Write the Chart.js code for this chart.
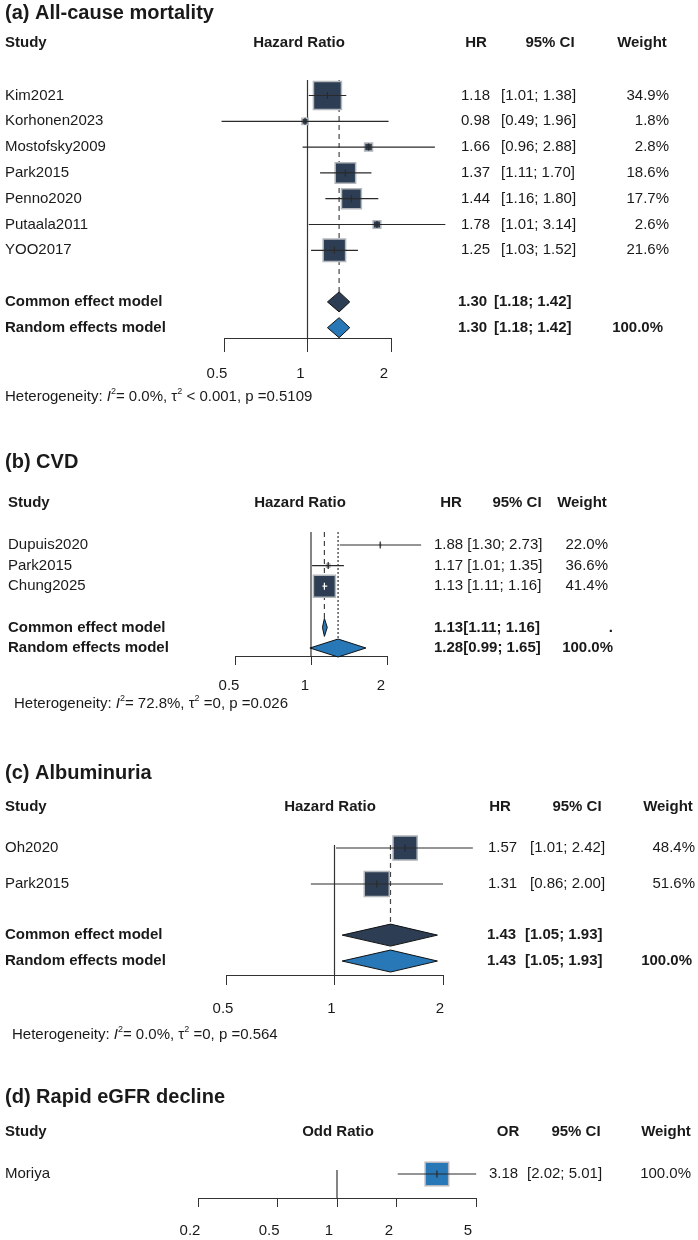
<!DOCTYPE html>
<html>
<head>
<meta charset="utf-8">
<script src="https://cdn.jsdelivr.net/npm/chart.js@4.4.1/dist/chart.umd.min.js"></script>
<style>
  html, body { margin: 0; padding: 0; background: #fff; }
  #page { position: relative; width: 698px; height: 1240px; }
  #page canvas { position: absolute; left: 0; top: 0; }
</style>
</head>
<body>
<div id="page">
  <canvas id="mortality" width="698" height="1240"></canvas>
  <canvas id="cvd" width="698" height="1240"></canvas>
  <canvas id="albuminuria" width="698" height="1240"></canvas>
  <canvas id="egfr" width="698" height="1240"></canvas>
</div>
<script>
// (a) All-cause mortality
const studiesA = ["Kim2021", "Korhonen2023", "Mostofsky2009", "Park2015", "Penno2020", "Putaala2011", "YOO2017"];
const hrA = [1.18, 0.98, 1.66, 1.37, 1.44, 1.78, 1.25];
const lowA = [1.01, 0.49, 0.96, 1.11, 1.16, 1.01, 1.03];
const highA = [1.38, 1.96, 2.88, 1.70, 1.80, 3.14, 1.52];
const weightA = [34.9, 1.8, 2.8, 18.6, 17.7, 2.6, 21.6];
const commonA = [1.30, 1.18, 1.42];
const randomA = [1.30, 1.18, 1.42];
const hetA = ["0.0%", " < 0.001", "0.5109"];
const ticksA = [0.5, 1, 2];

// (b) CVD
const studiesB = ["Dupuis2020", "Park2015", "Chung2025"];
const hrB = [1.88, 1.17, 1.13];
const lowB = [1.30, 1.01, 1.11];
const highB = [2.73, 1.35, 1.16];
const weightB = [22.0, 36.6, 41.4];
const commonB = [1.13, 1.11, 1.16];
const randomB = [1.28, 0.99, 1.65];
const hetB = ["72.8%", " =0", "0.026"];
const ticksB = [0.5, 1, 2];

// (c) Albuminuria
const studiesC = ["Oh2020", "Park2015"];
const hrC = [1.57, 1.31];
const lowC = [1.01, 0.86];
const highC = [2.42, 2.00];
const weightC = [48.4, 51.6];
const commonC = [1.43, 1.05, 1.93];
const randomC = [1.43, 1.05, 1.93];
const hetC = ["0.0%", " =0", "0.564"];
const ticksC = [0.5, 1, 2];

// (d) Rapid eGFR decline
const studiesD = ["Moriya"];
const orD = [3.18];
const lowD = [2.02];
const highD = [5.01];
const weightD = [100.0];
const ticksD = [0.2, 0.5, 1, 2, 5];

const FONT = '"Liberation Sans", Arial, Helvetica, sans-serif';
const NAVY = "#2d3e54";
const BLUE = "#2878b8";
const INK = "#1a1a1a";
const W = 698, H = 1240;

function fmt(v) { return v.toFixed(2); }
function ci(lo, hi) { return "[" + fmt(lo) + "; " + fmt(hi) + "]"; }

function drawParts(ctx, x, y, parts) {
  parts.forEach(part => {
    ctx.font = (part.italic ? "italic " : "") + (part.sup ? 9 : 15) + "px " + FONT;
    ctx.fillText(part.t, x, part.sup ? y - 5 : y);
    x += ctx.measureText(part.t).width;
  });
}

function forest(id, p, L, T) {
  const n = p.studies.length;
  // box size from inverse-variance weights (like meta does)
  const inv = p.low.map((lo, i) => {
    const se = Math.log(p.high[i] / lo) / 3.92;
    return 1 / (se * se);
  });
  const wmax = Math.max(...inv);
  const sides = inv.map(w => L.maxBox * Math.sqrt(w / wmax));
  const radii = sides.map(s => s / Math.SQRT2);

  const rowCommon = n + L.gap;
  const rowRandom = n + L.gap + L.sumStep;

  const plugin = {
    id: "forest_" + id,
    beforeDatasetsDraw(chart) {
      const ctx = chart.ctx, xs = chart.scales.x, ys = chart.scales.y, a = chart.chartArea;
      ctx.save();
      ctx.strokeStyle = "#333";
      ctx.lineWidth = 1.2;
      const x1 = xs.getPixelForValue(1);
      ctx.beginPath(); ctx.moveTo(x1, a.top); ctx.lineTo(x1, a.bottom); ctx.stroke();
      if (p.common) {
        const xc = xs.getPixelForValue(p.common[0]);
        ctx.setLineDash([5, 4]);
        ctx.strokeStyle = "#444";
        ctx.beginPath(); ctx.moveTo(xc, a.top); ctx.lineTo(xc, ys.getPixelForValue(rowCommon) - L.diamondH); ctx.stroke();
      }
      if (p.random && L.randomLine) {
        const xr = xs.getPixelForValue(p.random[0]);
        ctx.setLineDash([2, 2]);
        ctx.strokeStyle = "#333";
        ctx.beginPath(); ctx.moveTo(xr, a.top); ctx.lineTo(xr, ys.getPixelForValue(rowRandom) - L.diamondH); ctx.stroke();
      }
      ctx.restore();
    },
    afterDatasetsDraw(chart) {
      const ctx = chart.ctx, xs = chart.scales.x, ys = chart.scales.y;
      ctx.save();
      ctx.lineWidth = 1.2;
      p.est.forEach((v, i) => {
        const y = ys.getPixelForValue(i);
        const xe = xs.getPixelForValue(v);
        const xl = xs.getPixelForValue(p.low[i]);
        const xh = xs.getPixelForValue(p.high[i]);
        const half = sides[i] / 2;
        const inside = xl >= xe - half && xh <= xe + half;
        ctx.strokeStyle = inside ? "#fff" : "#2a2a2a";
        ctx.beginPath();
        ctx.moveTo(xl, y); ctx.lineTo(xh, y);
        ctx.moveTo(xe, y - 3.5); ctx.lineTo(xe, y + 3.5);
        ctx.stroke();
      });
      const diamond = (vals, row, fill) => {
        const y = ys.getPixelForValue(row);
        const xe = xs.getPixelForValue(vals[0]);
        ctx.beginPath();
        ctx.moveTo(xs.getPixelForValue(vals[1]), y);
        ctx.lineTo(xe, y - L.diamondH);
        ctx.lineTo(xs.getPixelForValue(vals[2]), y);
        ctx.lineTo(xe, y + L.diamondH);
        ctx.closePath();
        ctx.fillStyle = fill;
        ctx.fill();
        ctx.strokeStyle = "#111";
        ctx.lineWidth = 1;
        ctx.stroke();
      };
      if (p.common) diamond(p.common, rowCommon, L.commonColor);
      if (p.random) diamond(p.random, rowRandom, BLUE);
      ctx.restore();
    },
    afterDraw(chart) {
      const ctx = chart.ctx, ys = chart.scales.y;
      ctx.save();
      ctx.fillStyle = INK;
      ctx.textBaseline = "middle";
      // title
      ctx.textAlign = "left";
      ctx.font = "bold 20px " + FONT;
      ctx.fillText(T.title, 5, T.titleY);
      // header
      ctx.font = "bold 15px " + FONT;
      ctx.fillText("Study", T.labelX, T.headY);
      ctx.textAlign = "center";
      ctx.fillText(T.effect, T.effectX, T.headY);
      ctx.fillText(T.estHead, T.estHeadX, T.headY);
      ctx.fillText("95% CI", T.ciHeadX, T.headY);
      ctx.fillText("Weight", T.wHeadX, T.headY);
      // study rows
      ctx.font = "15px " + FONT;
      p.studies.forEach((s, i) => {
        const y = ys.getPixelForValue(i);
        ctx.textAlign = "left";
        ctx.fillText(s, T.labelX, y);
        if (T.joined) {
          ctx.fillText(fmt(p.est[i]) + " " + ci(p.low[i], p.high[i]), T.estX, y);
        } else {
          ctx.fillText(fmt(p.est[i]), T.estX, y);
          ctx.fillText(ci(p.low[i], p.high[i]), T.ciX, y);
        }
        ctx.textAlign = "right";
        ctx.fillText(p.weight[i].toFixed(1) + "%", T.wX, y);
      });
      // pooled rows
      ctx.font = "bold 15px " + FONT;
      const pooled = (label, vals, row, wtxt) => {
        const y = ys.getPixelForValue(row);
        ctx.textAlign = "left";
        ctx.fillText(label, T.labelX, y);
        if (T.joined) {
          ctx.fillText(fmt(vals[0]) + ci(vals[1], vals[2]), T.estBX, y);
        } else {
          ctx.fillText(fmt(vals[0]), T.estBX, y);
          ctx.fillText(ci(vals[1], vals[2]), T.ciBX, y);
        }
        if (wtxt) { ctx.textAlign = "right"; ctx.fillText(wtxt, T.wBX, y); }
      };
      if (p.common) pooled("Common effect model", p.common, rowCommon, T.commonW);
      if (p.random) pooled("Random effects model", p.random, rowRandom, "100.0%");
      // heterogeneity
      if (p.het) {
        ctx.textAlign = "left";
        drawParts(ctx, T.hetX, T.hetY, [
          { t: "Heterogeneity: " }, { t: "I", italic: true }, { t: "2", sup: true },
          { t: "= " + p.het[0] + ", \u03C4" }, { t: "2", sup: true },
          { t: p.het[1] + ", p =" + p.het[2] }
        ]);
      }
      ctx.restore();
    }
  };

  return new Chart(document.getElementById(id), {
    type: "scatter",
    data: {
      datasets: [{
        data: p.est.map((v, i) => ({ x: v, y: i })),
        pointStyle: "rect",
        pointRadius: radii,
        pointHoverRadius: radii,
        backgroundColor: L.boxColor,
        borderColor: "#b4b8bd",
        borderWidth: 1.5,
        clip: false
      }]
    },
    options: {
      responsive: false,
      animation: false,
      events: [],
      layout: { padding: { left: L.left, right: W - L.right, top: L.top, bottom: H - L.axis - 50 } },
      plugins: { legend: { display: false }, tooltip: { enabled: false } },
      scales: {
        x: {
          type: "logarithmic",
          min: p.ticks[0],
          max: p.ticks[p.ticks.length - 1],
          afterBuildTicks: s => { s.ticks = p.ticks.map(v => ({ value: v })); },
          afterFit: s => { s.height = 50; },
          ticks: {
            callback: v => String(v),
            font: { family: FONT, size: 15 },
            color: INK,
            padding: L.tickPad,
            labelOffset: L.labelOffset,
            maxRotation: 0,
            autoSkip: false
          },
          grid: { drawOnChartArea: false, tickLength: L.tickLen, color: "#333", lineWidth: 1 },
          border: { color: "#333", width: 1 }
        },
        y: {
          type: "linear",
          display: false,
          reverse: true,
          min: -(L.row0 - L.top) / L.pitch,
          max: (L.axis - L.row0) / L.pitch
        }
      }
    },
    plugins: [plugin]
  });
}

forest("mortality",
  { studies: studiesA, est: hrA, low: lowA, high: highA, weight: weightA, common: commonA, random: randomA, het: hetA, ticks: ticksA },
  { top: 80, row0: 95.5, pitch: 25.8, gap: 1, sumStep: 1, axis: 338, left: 224, right: 391,
    tickLen: 14, tickPad: 13, labelOffset: -7, maxBox: 28, diamondH: 10, boxColor: NAVY, commonColor: NAVY, randomLine: false },
  { title: "(a) All-cause mortality", titleY: 13, headY: 43, labelX: 5, effect: "Hazard Ratio", effectX: 299,
    estHead: "HR", estHeadX: 476, ciHeadX: 550, wHeadX: 642,
    estX: 461, ciX: 501, wX: 669, estBX: 458, ciBX: 494, wBX: 663, commonW: "", hetX: 5, hetY: 397 });

forest("cvd",
  { studies: studiesB, est: hrB, low: lowB, high: highB, weight: weightB, common: commonB, random: randomB, het: hetB, ticks: ticksB },
  { top: 532, row0: 545, pitch: 20.6, gap: 1, sumStep: 1, axis: 656, left: 235, right: 387,
    tickLen: 9, tickPad: 12, labelOffset: -6, maxBox: 22, diamondH: 9, boxColor: NAVY, commonColor: BLUE, randomLine: true },
  { title: "(b) CVD", titleY: 462, headY: 503, labelX: 8, effect: "Hazard Ratio", effectX: 300,
    estHead: "HR", estHeadX: 451, ciHeadX: 517, wHeadX: 582, joined: true,
    estX: 434, wX: 608, estBX: 434, wBX: 613, commonW: ".", hetX: 14, hetY: 704 });

forest("albuminuria",
  { studies: studiesC, est: hrC, low: lowC, high: highC, weight: weightC, common: commonC, random: randomC, het: hetC, ticks: ticksC },
  { top: 845, row0: 848, pitch: 36, gap: 0.42, sumStep: 0.72, axis: 975, left: 226, right: 443,
    tickLen: 10, tickPad: 15, labelOffset: -3, maxBox: 25, diamondH: 11, boxColor: NAVY, commonColor: NAVY, randomLine: false },
  { title: "(c) Albuminuria", titleY: 773, headY: 807, labelX: 5, effect: "Hazard Ratio", effectX: 330,
    estHead: "HR", estHeadX: 500, ciHeadX: 577, wHeadX: 668,
    estX: 488, ciX: 530, wX: 695, estBX: 487, ciBX: 525, wBX: 692, commonW: "", hetX: 12, hetY: 1035 });

forest("egfr",
  { studies: studiesD, est: orD, low: lowD, high: highD, weight: weightD, ticks: ticksD },
  { top: 1170, row0: 1174, pitch: 24, gap: 1, sumStep: 1, axis: 1198, left: 198, right: 476,
    tickLen: 9, tickPad: 15, labelOffset: -8, maxBox: 23.5, diamondH: 10, boxColor: BLUE, commonColor: NAVY, randomLine: false },
  { title: "(d) Rapid eGFR decline", titleY: 1097, headY: 1132, labelX: 5, effect: "Odd Ratio", effectX: 338,
    estHead: "OR", estHeadX: 508, ciHeadX: 576, wHeadX: 666,
    estX: 489, ciX: 527, wX: 691, estBX: 489, ciBX: 527, wBX: 691, commonW: "" });
</script>
</body>
</html>
